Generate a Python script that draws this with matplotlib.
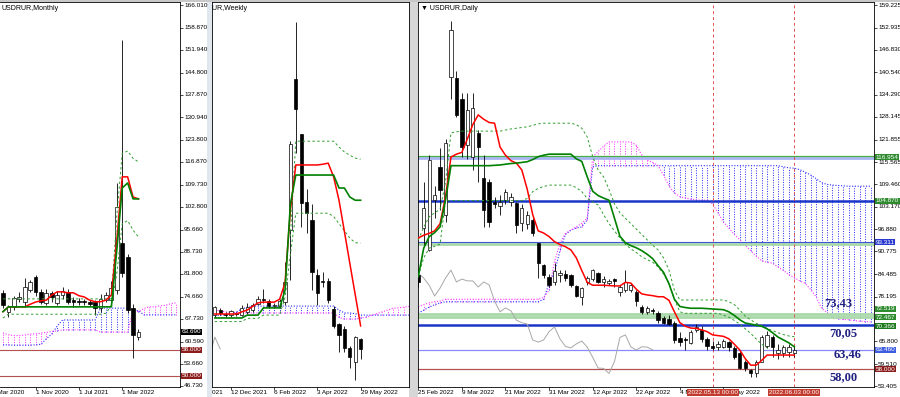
import numpy as np
import matplotlib
matplotlib.use("Agg")
import matplotlib.pyplot as plt
from matplotlib.transforms import Bbox, TransformedBbox
from matplotlib.patches import Rectangle

plt.rcParams['font.family'] = ['Liberation Sans', 'DejaVu Sans']

# ---------------- monthly, first bar = May 2020 ----------------
m_open = [75.9, 70.0, 71.4, 73.9, 73.0, 76.8, 80.9, 76.2, 72.7, 75.8, 72.8, 75.3, 76.0,
          73.6, 73.4, 73.2, 72.9, 72.9, 71.1, 73.6, 73.6, 76.8, 91.5, 87.1, 71.1, 62.0]
m_high = [76.8, 72.1, 74.8, 76.0, 80.4, 80.0, 81.5, 77.0, 77.0, 76.5, 76.5, 77.7, 77.0,
          74.5, 74.4, 74.0, 73.6, 73.6, 75.5, 76.0, 79.5, 110.3, 155.0, 88.0, 72.4, 64.5]
m_low = [71.2, 68.4, 70.5, 73.0, 71.5, 76.0, 75.0, 72.5, 72.0, 73.0, 72.0, 74.0, 72.5,
         71.5, 72.0, 72.0, 71.8, 68.9, 70.0, 73.0, 73.0, 75.5, 80.9, 69.5, 55.5, 61.1]
m_close = [72.1, 71.6, 74.3, 74.5, 77.7, 79.4, 76.2, 73.0, 75.8, 74.6, 75.2, 76.6, 73.0,
           73.0, 73.0, 73.0, 72.5, 71.0, 74.1, 75.2, 77.4, 102.8, 82.1, 70.5, 62.7, 63.69]
m_tenkan = [70.0, 71.5, 71.5, 71.5, 71.5, 72.3, 73.0, 73.4, 73.6, 75.2, 76.2, 76.2, 75.9,
            75.9, 75.0, 74.6, 73.6, 73.1, 73.1, 73.6, 75.2, 92.4, 112.2, 112.2, 105.9, 105.3]
m_kijun = [70.0, 71.5, 71.5, 71.5, 71.5, 71.5, 71.5, 71.5, 71.5, 71.5, 71.5, 71.5, 71.5,
           71.5, 71.5, 71.5, 71.5, 71.5, 71.5, 71.5, 71.5, 89.3, 108.7, 110.3, 105.3, 105.3]
m_dash_hi = [74.0, 74.0, 74.0, 74.0, 74.0, 74.0, 74.0, 74.0, 74.0, 74.0, 74.0, 74.0, 74.0,
             74.0, 74.0, 74.0, 74.0, 74.0, 74.0, 74.0, 74.0, 100.0, 119.5, 120.3, 118.0, 116.9]
m_dash_lo = [68.0, 69.2, 69.2, 69.2, 69.2, 69.2, 69.2, 69.2, 69.2, 69.2, 69.2, 69.2, 69.2,
             69.2, 69.2, 69.2, 69.2, 69.2, 69.2, 69.5, 72.0, 82.0, 97.5, 98.5, 95.5, 93.4]
m_span_a = [59.6, 59.6, 59.5, 59.5, 59.5, 59.5, 59.6, 59.8, 61.5, 63.0, 65.5, 67.4, 67.4,
            67.4, 67.4, 67.4, 67.4, 67.4, 71.1, 71.1, 71.1, 71.1, 71.1, 71.1, 70.5, 70.3,
            69.0, 69.0, 69.0, 69.0, 69.0, 69.0, 69.0]
m_span_b = [63.3, 62.8, 62.5, 62.5, 62.7, 63.0, 63.0, 63.3, 63.5, 63.8, 64.0, 64.3, 64.3,
            64.3, 64.3, 64.3, 64.3, 64.3, 63.6, 63.6, 63.6, 63.6, 63.6, 63.6, 70.5, 70.0,
            71.0, 71.5, 71.5, 71.8, 72.0, 72.5, 72.8]
m_ticks = [166.010, 158.870, 151.940, 144.800, 137.870, 130.940, 123.800, 116.870, 109.730,
           102.800, 95.660, 88.730, 81.800, 74.660, 67.730, 60.590, 53.660, 46.730]
m_date_pos = [-2, 6, 14, 22]
m_date_txt = ["1 Mar 2020", "1 Nov 2020", "1 Jul 2021", "1 Mar 2022"]
m_support = [58.0, 50.0]

# ---------------- weekly, first bar = week of 21 Nov 2021 (x = -3) ----------------
w_first = -3
w_open = [73.1, 74.5, 73.4, 73.0, 73.6, 73.1, 74.0, 74.5, 76.2, 77.5, 77.0, 75.5, 75.5, 76.7,
          96.7, 138.7, 123.4, 104.5, 99.5, 84.2, 82.6, 82.6, 74.8, 70.6, 69.2, 63.9, 60.1, 66.5]
w_high = [75.5, 75.0, 74.0, 74.6, 74.0, 76.0, 76.5, 76.5, 78.5, 80.4, 77.5, 76.5, 77.5, 87.8,
          121.5, 154.6, 123.5, 108.1, 104.0, 86.0, 85.1, 83.5, 75.5, 71.0, 70.0, 64.5, 67.3, 66.8]
w_low = [72.5, 73.0, 72.5, 72.7, 72.8, 72.8, 73.5, 74.0, 75.8, 76.5, 75.0, 75.0, 75.0, 76.0,
         82.8, 118.0, 97.6, 95.9, 80.1, 75.8, 81.0, 76.5, 69.4, 62.8, 62.8, 58.4, 55.1, 60.9]
w_close = [75.3, 73.7, 73.0, 74.2, 73.3, 75.1, 75.3, 75.9, 77.6, 77.3, 75.5, 75.8, 76.9, 82.3,
           120.6, 130.3, 104.2, 101.4, 85.1, 79.3, 82.4, 77.3, 70.1, 67.6, 63.9, 61.5, 67.0, 63.7]
w_tenkan = [73.4, 73.4, 73.4, 73.4, 73.4, 74.0, 74.5, 75.5, 76.5, 76.7, 76.7, 76.7, 77.5, 82.0,
            102.3, 114.8, 114.8, 114.8, 114.8, 114.8, 115.0, 115.3, 111.5, 105.0, 96.3, 87.5, 78.8, 70.1]
w_kijun = [72.3, 72.3, 72.3, 72.3, 72.3, 72.3, 73.1, 73.1, 73.1, 75.1, 75.1, 75.1, 75.1, 80.0,
           104.0, 112.0, 112.0, 112.0, 112.0, 112.0, 112.0, 112.0, 112.0, 108.4, 108.4, 105.9, 105.0, 105.0]
nan = np.nan
w_dash_hi = [nan, nan, nan, nan, nan, nan, nan, nan, nan, nan, nan, nan, nan, nan,
             95.0, 121.4, 121.4, 121.4, 121.4, 121.4, 121.4, 121.4, 121.4, 119.8, 118.4, 117.5, 116.7, 116.4]
w_dash_lo = [71.3, 71.3, 71.3, 71.3, 71.3, 71.3, 72.2, 72.2, 72.2, 73.1, 73.1, 73.1, 73.1, 78.0,
             90.0, 101.4, 101.4, 101.4, 101.4, 101.4, 101.4, 101.4, 100.5, 98.5, 96.5, 94.5, 93.2, 93.1]
w_span_a = [73.0, 73.0, 73.2, 73.5, 74.0, 74.8, 75.3, 75.6, 75.6, 75.6, 75.6, 75.6, 75.6, 75.6,
            75.6, 75.6, 75.6, 75.6, 75.6, 75.6, 75.6, 75.6, 75.6, 74.5, 73.7, 73.7, 73.5, 73.1,
            73.1, 73.1, 73.1, 73.1, 73.1, 73.1, 73.1, 73.1, 73.1]
w_span_b = [74.5, 74.3, 74.0, 73.8, 73.7, 73.7, 73.7, 73.7, 73.7, 73.7, 73.7, 73.7, 73.7, 73.7,
            73.7, 73.7, 73.7, 73.7, 73.7, 73.7, 73.7, 73.7, 73.7, 72.5, 72.0, 72.0, 72.0, 72.3,
            72.5, 73.0, 73.5, 74.0, 74.5, 75.0, 75.1, 75.3, 75.5]
w_date_pos = [-8, 0, 8, 16, 24]
w_date_txt = ["17 Oct 2021", "12 Dec 2021", "6 Feb 2022", "3 Apr 2022", "29 May 2022"]

# ---------------- daily, first bar = 25 Feb 2022 ----------------
d_open = [84.2, 97.3, 91.2, 105.0, 114.2, 101.0, 139.2, 138.9, 133.0, 120.3,
          117.0, 123.7, 111.2, 110.1, 104.5, 103.4, 105.1, 104.5, 104.2, 98.7,
          98.4, 99.5, 93.1, 87.0, 83.8, 82.3, 84.2, 84.5, 84.2, 81.2,
          78.1, 82.3, 83.1, 84.7, 82.3, 82.0, 83.1, 79.5, 80.1, 80.1,
          79.6, 75.4, 74.0, 74.6, 73.6, 72.3, 72.0, 70.9, 66.7, 66.6,
          65.3, 68.9, 69.0, 66.5, 64.6, 64.3, 64.3, 65.5, 63.9, 62.6,
          60.2, 57.85, 56.9, 60.2, 64.6, 66.9, 62.6, 62.5, 62.8, 62.6]
d_high = [86.0, 110.0, 117.6, 109.0, 119.5, 122.0, 154.8, 141.0, 134.8, 134.8,
          134.8, 124.5, 117.6, 111.0, 105.9, 106.5, 108.0, 107.0, 104.5, 104.0,
          102.0, 100.0, 93.1, 87.2, 84.5, 87.5, 85.6, 85.5, 84.5, 81.5,
          81.0, 84.0, 86.0, 85.0, 84.0, 83.2, 83.5, 81.5, 85.6, 82.0,
          80.0, 75.8, 75.5, 75.0, 74.2, 72.8, 73.0, 71.5, 68.5, 67.0,
          69.0, 70.5, 70.0, 67.0, 66.0, 66.0, 66.5, 66.0, 64.5, 63.0,
          60.5, 58.2, 60.5, 67.5, 68.8, 67.5, 65.0, 64.8, 65.0, 64.5]
d_low = [81.0, 92.6, 91.0, 100.0, 102.3, 99.0, 133.0, 128.0, 117.0, 116.5,
         113.4, 110.0, 97.6, 97.6, 102.8, 101.0, 104.0, 103.5, 95.9, 96.5,
         97.0, 95.0, 83.4, 83.5, 80.9, 81.5, 82.3, 82.5, 81.0, 78.0,
         75.9, 81.5, 82.5, 82.0, 81.0, 81.5, 81.0, 78.5, 79.5, 79.5,
         75.5, 73.5, 73.5, 73.5, 71.0, 70.5, 70.3, 65.4, 64.5, 63.4,
         65.0, 68.5, 65.5, 63.5, 63.5, 63.5, 64.0, 63.0, 61.0, 58.0,
         57.5, 56.0, 56.0, 60.0, 64.0, 61.6, 61.0, 61.5, 61.5, 61.5]
d_close = [82.3, 102.8, 116.2, 106.4, 107.8, 121.0, 152.3, 128.7, 119.8, 130.1,
           130.6, 119.8, 102.3, 99.0, 104.0, 104.5, 107.3, 105.9, 98.1, 102.8,
           100.9, 95.9, 87.6, 84.2, 81.5, 85.3, 84.7, 83.4, 81.4, 78.4,
           80.6, 83.4, 85.6, 82.3, 83.1, 82.6, 82.6, 80.9, 82.3, 81.5,
           77.0, 74.0, 75.1, 74.3, 71.7, 71.0, 70.6, 66.2, 65.6, 66.2,
           68.5, 69.8, 66.5, 64.4, 64.0, 65.1, 65.9, 64.2, 61.4, 58.4,
           58.3, 56.9, 60.2, 66.9, 67.6, 64.3, 63.4, 64.3, 64.2, 63.46]
d_tenkan = [94.5, 95.3, 95.8, 96.5, 98.5, 106.0, 117.0, 117.8, 118.3, 122.0,
            126.0, 128.7, 127.5, 126.6, 126.4, 119.8, 117.5, 116.0, 115.3, 113.4,
            108.0, 101.0, 96.5, 95.9, 94.9, 93.5, 92.7, 92.1, 91.2, 89.0,
            85.5, 82.2, 81.4, 81.4, 81.4, 81.3, 81.2, 81.2, 82.2, 82.0,
            80.3, 79.0, 78.7, 78.5, 78.2, 78.2, 77.2, 74.0, 71.0, 70.0,
            69.5, 69.4, 69.0, 68.5, 67.6, 67.4, 67.2, 66.5, 65.0, 63.4,
            61.0, 59.2, 59.2, 60.5, 62.0, 62.0, 62.0, 62.0, 62.0, 62.0]
d_kijun = [83.8, 91.7, 94.9, 96.0, 97.6, 105.0, 114.6, 114.6, 114.6, 114.6,
           114.6, 114.6, 114.6, 114.6, 114.7, 114.8, 115.0, 115.2, 115.3, 115.5,
           115.7, 116.3, 117.1, 117.5, 117.8, 117.8, 117.8, 117.8, 117.8, 116.5,
           115.8, 111.5, 107.5, 106.3, 105.6, 105.0, 100.0, 95.0, 93.2, 92.4,
           91.8, 91.0, 90.0, 88.8, 86.8, 85.0, 81.8, 77.5, 75.5, 75.2,
           75.0, 75.0, 75.0, 74.9, 74.8, 74.7, 74.6, 74.0, 73.0, 71.8,
           70.9, 70.6, 70.3, 70.0, 69.3, 68.2, 67.0, 66.2, 65.4, 64.3]
d_dash_hi = [94.0, 97.5, 100.4, 101.5, 102.5, 110.0, 123.7, 124.0, 124.2, 124.2,
             124.2, 124.2, 124.2, 124.2, 124.2, 124.2, 124.5, 124.8, 125.0, 125.2,
             125.4, 125.8, 126.2, 126.4, 126.4, 126.4, 126.4, 126.4, 126.4, 126.0,
             125.0, 122.6, 117.1, 113.4, 111.5, 108.0, 104.0, 101.5, 100.0, 98.5,
             97.0, 95.5, 94.0, 92.5, 91.2, 89.0, 85.6, 80.0, 77.3, 77.3,
             77.3, 77.3, 77.3, 77.3, 77.3, 77.3, 77.3, 76.8, 76.0, 74.5,
             72.8, 71.8, 70.8, 70.2, 69.4, 68.8, 68.2, 67.7, 67.3, 67.1]
d_dash_lo = [84.0, 89.0, 91.7, 92.2, 92.8, 104.9, 104.9, 104.9, 104.9, 104.9,
             104.9, 104.9, 104.9, 104.9, 104.9, 104.9, 104.9, 104.9, 104.9, 104.9,
             105.5, 107.4, 108.3, 108.8, 109.2, 109.2, 109.2, 109.2, 109.2, 108.5,
             107.4, 105.5, 104.5, 103.7, 101.0, 98.5, 96.5, 94.5, 92.8, 91.5,
             90.5, 89.3, 88.5, 87.8, 86.5, 84.5, 82.0, 77.5, 74.0, 73.6,
             73.6, 73.6, 73.6, 73.6, 73.6, 73.6, 73.1, 72.5, 71.6, 70.6,
             69.3, 68.0, 66.5, 65.0, 64.0, nan, nan, nan, nan, nan]
d_span_a = [73.6, 74.5, 75.3, 76.0, 76.5, 76.8, 76.8, 76.8, 76.8, 76.8, 76.8, 76.8, 76.8, 76.8,
            76.8, 76.8, 76.8, 76.8, 76.8, 76.8, 76.8, 76.8, 76.8, 77.5, 82.0, 85.0, 91.0, 95.5,
            96.7, 97.3, 97.6, 99.5, 114.3, 114.6, 114.6, 114.6, 114.6, 114.6, 114.6, 114.6, 114.6,
            114.6, 114.6, 114.6, 114.6, 114.6, 114.6, 114.6, 114.6, 114.6, 114.6, 114.6, 114.6,
            114.6, 114.6, 114.6, 114.6, 114.6, 114.6, 114.6, 114.6, 114.6, 114.6, 114.6, 114.6,
            114.6, 114.6, 114.3, 114.0, 113.9, 113.5, 112.8, 112.0, 111.0, 109.9, 109.4, 109.2,
            109.1, 109.0, 108.9, 108.9, 108.9, 108.9, 108.9]
d_span_b = [75.4, 76.0, 76.5, 76.8, 77.0, 77.5, 77.5, 77.5, 77.5, 77.5, 77.5, 77.5, 77.5, 77.5,
            77.5, 77.5, 77.5, 77.5, 77.5, 77.5, 77.5, 77.5, 77.5, 78.0, 80.0, 88.0, 93.0, 95.8,
            96.7, 97.6, 98.6, 100.0, 117.0, 118.5, 120.0, 121.2, 121.2, 121.2, 121.2, 121.2,
            120.3, 117.6, 116.2, 115.5, 114.6, 112.0, 109.0, 107.0, 106.0, 105.6,
            105.3, 105.1, 105.0, 105.0, 104.0, 101.5, 99.0, 97.2, 95.5, 94.0,
            92.5, 91.0, 89.5, 88.2, 87.8, 87.5, 86.5, 85.5, 84.3, 83.5,
            82.6, 81.9, 80.2, 78.2, 75.0, 73.8, 72.5, 72.1, 71.9, 71.8,
            71.6, 71.4, 71.3, 71.2]
d_ticks = [159.225, 152.935, 146.830, 140.540, 134.290, 128.145, 121.855, 115.565, 109.460,
           103.170, 96.880, 90.775, 84.485, 78.195, 71.905, 65.800, 59.510, 53.405]
d_hidden_ticks = [71.905]   # its label sits under the stacked price boxes
d_date_pos = [0, 8, 16, 24, 32, 40, 48, 56]
d_date_txt = ["25 Feb 2022", "9 Mar 2022", "21 Mar 2022", "31 Mar 2022", "12 Apr 2022",
              "22 Apr 2022", "4 May 2022", "17 May 2022"]
d_marks = [54, 69]
d_marks_txt = ["2022.05.13 00:00", "2022.06.03 00:00"]
lvl_top, lvl_top_band = 117.25, 116.7
lvl_kijun_w, lvl_b1, lvl_b1_band = 104.9, 93.311, 92.85
lvl_7343, lvl_7250, lvl_7037 = 73.43, 72.5, 70.366
lvl_6346, lvl_58 = 63.46, 58.0
notes = [("73,43", 77.0, 76.5), ("70,05", 78.0, 68.1), ("63,46", 78.8, 62.3), ("58,00", 78.0, 55.9)]

SHIFT = 26
BLUE, MAG = '#2b2bff', '#ff33ff'
RED, GREEN, DGREEN, GRAY = '#ff0000', '#008000', '#2f9e2f', '#a8a8a8'
LVLRED = '#b55050'
FS = 4.6
DOT = (0, (1, 1.5))
DASH = (0, (2.5, 2.5))

W, H = 900, 397
fig = plt.figure(figsize=(W / 100, H / 100), dpi=100)


def add_ax(x0, x1, y0=2, y1=387):
    ax = fig.add_axes([x0 / W, 1 - y1 / H, (x1 - x0) / W, (y1 - y0) / H])
    for s in ax.spines.values():
        s.set_linewidth(0.6)
    ax.tick_params(axis='both', length=2, width=0.5, labelsize=FS)
    return ax


def candles(ax, x, o, h, l, c, w):
    o, h, l, c = (np.asarray(v, float) for v in (o, h, l, c))
    ax.vlines(x, l, h, color='black', lw=0.6, zorder=3)
    ax.bar(x, np.abs(c - o), w, bottom=np.minimum(o, c),
           color=np.where(c >= o, 'white', 'black'), edgecolor='black', lw=0.5, zorder=3.2)


def cloud(ax, x, a, b):
    a, b = np.asarray(a, float), np.asarray(b, float)
    ax.vlines(x, np.minimum(a, b), np.maximum(a, b), colors=np.where(a >= b, BLUE, MAG),
              linestyles=[DOT], lw=0.7, zorder=1)
    ax.plot(x, a, color=BLUE, ls=DOT, lw=0.8, zorder=1.2)
    ax.plot(x, b, color=MAG, ls=DOT, lw=0.8, zorder=1.2)


def ichimoku_lines(ax, x, tenkan, kijun, hi, lo):
    ax.plot(x, hi, color=DGREEN, ls=DASH, lw=0.7, zorder=3.5)
    ax.plot(x, lo, color=DGREEN, ls=DASH, lw=0.7, zorder=3.5)
    ax.plot(x, tenkan, color=RED, lw=1.1, zorder=4)
    ax.plot(x, kijun, color=GREEN, lw=1.2, zorder=4.1)


def right_label(ax, y, s, fc=None, tc='black', dy=0):
    kw = dict(xy=(1, y), xycoords=('axes fraction', 'data'), xytext=(1.3 if fc else 3.0, dy),
              textcoords='offset points', fontsize=FS, va='center', ha='left', color=tc,
              annotation_clip=False, zorder=9 if fc else 8)
    if fc:
        kw['bbox'] = dict(boxstyle='square,pad=0.08', fc=fc, ec='none')
    ax.annotate(s, **kw)


def date_labels(ax, pos, txt, clip=None):
    lo, hi = ax.get_xlim()
    ax.set_xticks([p for p in pos if lo <= p <= hi])
    ax.set_xticklabels([])
    ax.set_xlim(lo, hi)
    for p, s in zip(pos, txt):
        t = ax.text(p, -0.007, s, transform=ax.get_xaxis_transform(), fontsize=FS,
                    ha='left', va='top', clip_on=False, zorder=6)
        if clip is not None:
            t.set_clip_path(None)
            t.set_clip_box(TransformedBbox(Bbox.from_extents(clip[0] / W, 0, clip[1] / W, 1),
                                           fig.transFigure))
            t.set_clip_on(True)


# ---------------- monthly panel ----------------
ax = add_ax(0, 180)
ax.spines['left'].set_visible(False)
xm = np.arange(len(m_open))
cloud(ax, np.arange(len(m_span_a)), m_span_a, m_span_b)
for v in m_support:
    ax.axhline(v, color=LVLRED, lw=0.8, zorder=1.6)
candles(ax, xm, m_open, m_high, m_low, m_close, 0.7)
ichimoku_lines(ax, xm, m_tenkan, m_kijun, m_dash_hi, m_dash_lo)
ax.set_xlim(-0.55, 32.66)
ax.yaxis.tick_right()
ax.set_yticks(m_ticks)
ax.set_yticklabels([])
ax.set_ylim(46.41, 166.95)
for v in m_ticks:
    right_label(ax, v, f"{v:.3f}")
right_label(ax, m_close[-1], f"{m_close[-1]:.3f}", fc='black', tc='white')
for v in m_support:
    right_label(ax, v, f"{v:.3f}", fc='#8b1c1c', tc='white')
date_labels(ax, m_date_pos, m_date_txt)
ax.text(0.011, 0.992, "USDRUR,Monthly", transform=ax.transAxes, fontsize=5, va='top')

# ---------------- weekly panel ----------------
ax = add_ax(212, 409)
xw = np.arange(len(w_open)) + w_first
cloud(ax, np.arange(len(w_span_a)) + w_first, w_span_a, w_span_b)
ax.plot(xw - SHIFT, w_close, color=GRAY, lw=0.7, zorder=2)
candles(ax, xw, w_open, w_high, w_low, w_close, 0.62)
ichimoku_lines(ax, xw, w_tenkan, w_kijun, w_dash_hi, w_dash_lo)
ax.set_xlim(-3.52, 32.96)
ax.set_ylim(53.13, 160.06)
ax.set_yticks([])
date_labels(ax, w_date_pos, w_date_txt, clip=(212, 409))
ax.text(-0.097, 0.992, "USDRUR,Weekly", transform=ax.transAxes, fontsize=5, va='top', clip_on=True)

# ---------------- daily panel ----------------
ax = add_ax(418, 874)
xd = np.arange(len(d_open))
cloud(ax, np.arange(len(d_span_a)), d_span_a, d_span_b)
ax.plot(xd - SHIFT, d_close, color=GRAY, lw=0.7, zorder=2)
ax.axhline(lvl_top_band, color='#aab4f5', lw=2.0, zorder=1.6)
ax.axhline(lvl_top, color='#45b045', lw=0.9, zorder=1.7)
ax.axhline(lvl_kijun_w, color='#1a35c8', lw=1.8, zorder=1.7)
ax.axhline(lvl_b1_band, color='#a9d9a9', lw=2.0, zorder=1.6)
ax.axhline(lvl_b1, color='#3f55d8', lw=0.8, zorder=1.7)
ax.axhline(lvl_7343, color='#a9d9a9', lw=2.0, zorder=1.6)
ax.axhline(lvl_7250, color='#a9d9a9', lw=2.0, zorder=1.6)
ax.axhline(lvl_7037, color='#1a35c8', lw=1.8, zorder=1.7)
ax.axhline(lvl_6346, color='#8888ff', lw=0.9, zorder=1.7)
ax.axhline(lvl_58, color=LVLRED, lw=0.9, zorder=1.7)
for k in d_marks:
    ax.axvline(k, color='#e05050', ls=(0, (3, 3)), lw=0.7, zorder=1.8)
candles(ax, xd, d_open, d_high, d_low, d_close, 0.6)
ichimoku_lines(ax, xd, d_tenkan, d_kijun, d_dash_hi, d_dash_lo)
for s, kx, py in notes:
    ax.text(kx, py, s, fontsize=9, fontweight='bold', family=['Liberation Serif', 'DejaVu Serif'],
            color='#202080', ha='center', va='center', zorder=7)
ax.set_xlim(-0.05, 83.62)
ax.yaxis.tick_right()
ax.set_yticks(d_ticks)
ax.set_yticklabels([])
ax.set_ylim(53.13, 160.06)
for v in d_ticks:
    if v not in d_hidden_ticks:
        right_label(ax, v, f"{v:.3f}")
right_label(ax, 116.95, "116.954", fc='#2e8b2e', tc='white')
right_label(ax, 104.87, "104.870", fc='#2e8b2e', tc='white')
right_label(ax, lvl_b1, "93.311", fc='#2a3ad0', tc='white')
right_label(ax, 72.519, "72.519", fc='#2e8b2e', tc='white', dy=6.0)
right_label(ax, 72.467, "72.467", fc='#2e8b2e', tc='white', dy=0.0)
right_label(ax, lvl_7037, "70.366", fc='#1f7a1f', tc='white', dy=-1.0)
right_label(ax, lvl_6346, "63.460", fc='#3d5ce0', tc='white')
right_label(ax, lvl_58, "58.000", fc='#8b1c1c', tc='white')
date_labels(ax, d_date_pos, d_date_txt)
for k, s in zip(d_marks, d_marks_txt):
    ax.text(k, -0.007, s, transform=ax.get_xaxis_transform(), fontsize=FS, ha='center', va='top',
            color='white', clip_on=False, zorder=9,
            bbox=dict(boxstyle='square,pad=0.15', fc='#c23b2e', ec='none'))
ax.text(0.007, 0.992, "\u25bc USDRUR,Daily", transform=ax.transAxes, fontsize=5, va='top')

# window frames
fig.add_artist(Rectangle((207 / W, 0), 5 / W, 1, transform=fig.transFigure,
                         fc='#e1e7ef', ec='none', zorder=0))
fig.add_artist(Rectangle((409 / W, 0), 9 / W, 1, transform=fig.transFigure,
                         fc='#d6d6d6', ec='none', zorder=0))
fig.add_artist(Rectangle((0, 1 - 1.5 / H), 1, 1.5 / H, transform=fig.transFigure,
                         fc='#c8c8c8', ec='none', zorder=0))

fig.savefig("out.png", dpi=100)
